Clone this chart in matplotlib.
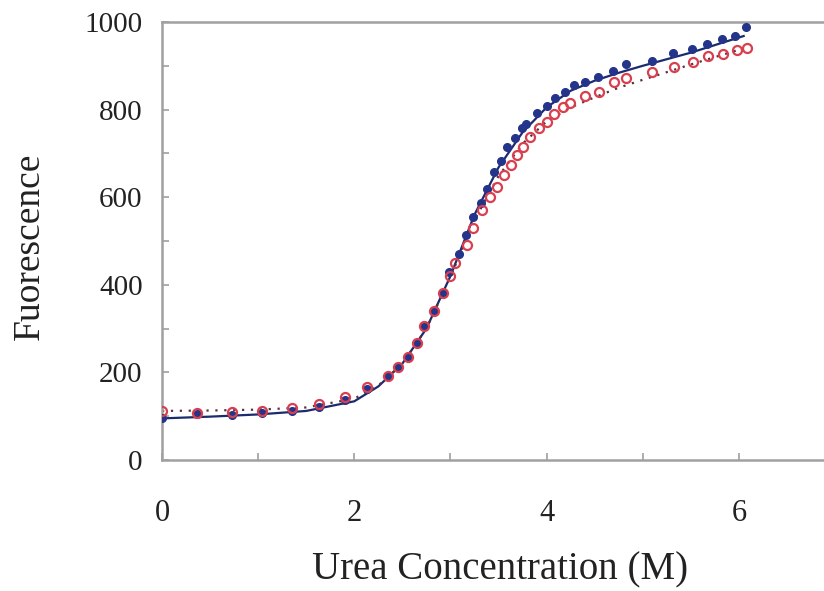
import numpy as np
import matplotlib.pyplot as plt
from matplotlib.ticker import MultipleLocator

plt.rcParams['font.family'] = ['Liberation Serif', 'DejaVu Serif']

blue_x = [0, 0.36, 0.73, 1.04, 1.35, 1.63, 1.9, 2.13, 2.35, 2.45, 2.56, 2.65, 2.72,
          2.83, 2.92, 2.99, 3.09, 3.16, 3.23, 3.32, 3.38, 3.45, 3.53, 3.59, 3.67,
          3.74, 3.79, 3.9, 4.0, 4.09, 4.19, 4.29, 4.4, 4.53, 4.69, 4.83, 5.1, 5.31,
          5.51, 5.67, 5.82, 5.96, 6.07]
blue_y = [97, 105, 103, 108, 112, 122, 137, 162, 192, 213, 235, 267, 306,
          341, 382, 430, 471, 514, 555, 587, 619, 658, 683, 715, 736,
          757, 768, 793, 809, 827, 841, 857, 864, 875, 887, 905, 912, 930,
          939, 949, 962, 969, 989]

red_x = [0, 0.36, 0.73, 1.04, 1.35, 1.63, 1.9, 2.13, 2.35, 2.45, 2.56, 2.65, 2.72,
         2.83, 2.92, 3.0, 3.05, 3.17, 3.23, 3.33, 3.41, 3.48, 3.56, 3.63, 3.69,
         3.75, 3.83, 3.92, 4.0, 4.08, 4.17, 4.24, 4.4, 4.55, 4.7, 4.83, 5.1, 5.33,
         5.52, 5.68, 5.83, 5.98, 6.08]
red_y = [113, 107, 110, 112, 119, 128, 144, 167, 192, 213, 235, 267, 306,
         341, 382, 421, 450, 491, 530, 571, 601, 624, 651, 674, 697,
         715, 738, 759, 772, 790, 805, 814, 830, 841, 864, 873, 885, 897,
         909, 923, 926, 935, 940]

# fitted curves
fit_x = [0, 0.5, 1.0, 1.5, 2.0, 2.25, 2.5, 2.75, 3.0, 3.25, 3.5, 3.75, 4.0,
         4.25, 4.5, 4.75, 5.0, 5.5, 6.05]
blue_fit = [95, 99, 104, 112, 134, 168, 220, 300, 420, 560, 668, 748, 805,
            843, 866, 884, 900, 930, 968]
red_fit = [112, 113, 115, 120, 140, 170, 220, 300, 418, 548, 648, 722, 773,
           805, 828, 850, 868, 903, 940]

fig = plt.figure(figsize=(8.24, 5.91), dpi=100)
ax = fig.add_axes([162 / 824, 131 / 591, 673 / 824, 438 / 591])

ax.plot(fit_x, blue_fit, color='#1c2a6e', lw=1.6, zorder=2)
ax.plot(fit_x, red_fit, color='#5a3040', lw=1.6, ls=(0, (1, 3)), zorder=2)
ax.plot(blue_x, blue_y, 'o', color='#23348a', ms=5.5, zorder=3)
ax.plot(red_x, red_y, 'o', mfc='none', mec='#d8404f', mew=1.6, ms=6.5, zorder=4)

ax.set_xlim(0, 7)
ax.set_ylim(0, 1000)
ax.xaxis.set_major_locator(MultipleLocator(2))
ax.xaxis.set_minor_locator(MultipleLocator(1))
ax.yaxis.set_major_locator(MultipleLocator(200))
ax.yaxis.set_minor_locator(MultipleLocator(100))

ax.spines['right'].set_visible(False)
for s in ['left', 'bottom', 'top']:
    ax.spines[s].set_color('#a0a0a0')
    ax.spines[s].set_linewidth(1.8)

ax.tick_params(which='both', direction='in', length=5, width=1.2, color='#a0a0a0')
ax.tick_params(axis='x', which='major', pad=28, labelsize=22, labelcolor='#222222')
ax.tick_params(axis='y', which='major', pad=14, labelsize=21, labelcolor='#222222')

ax.set_xlabel('Urea Concentration (M)', fontsize=28, color='#222222', va='center')
ax.set_ylabel('Fuorescence', fontsize=27, color='#222222', va='center')
ax.xaxis.set_label_coords((500 - 162) / 673, (460 - 570) / 438)
ax.yaxis.set_label_coords((30 - 162) / 673, (460 - 246) / 438)

fig.savefig('out.png', dpi=100)
